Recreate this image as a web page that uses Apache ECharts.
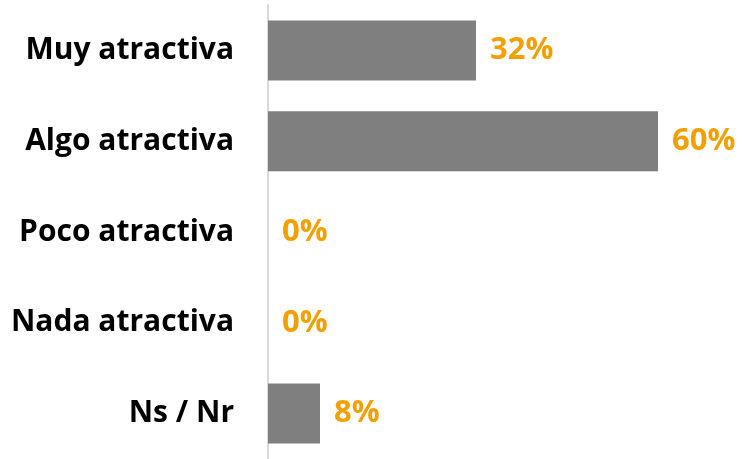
<!DOCTYPE html>
<html>
<head>
<meta charset="utf-8">
<script src="https://cdn.jsdelivr.net/npm/echarts@6/dist/echarts.min.js"></script>
<style>
  html, body { margin: 0; padding: 0; background: #fff; }
  #chart { width: 742px; height: 459px; }
</style>
</head>
<body>
<div id="chart"></div>
<script>
const categories = ['Muy atractiva', 'Algo atractiva', 'Poco atractiva', 'Nada atractiva', 'Ns / Nr']
const values = [32, 60, 0, 0, 8]

const chart = echarts.init(document.getElementById('chart'))
chart.setOption({
  animation: false,
  grid: { left: 268, top: 5, width: 455, height: 458 },
  xAxis: {
    type: 'value',
    min: 0,
    max: 70,
    show: false
  },
  yAxis: {
    type: 'category',
    data: categories,
    inverse: true,
    axisTick: { show: false },
    axisLine: { show: true, lineStyle: { color: '#d9d9d9', width: 2 } },
    axisLabel: {
      margin: 34,
      color: '#000',
      fontFamily: 'Open Sans',
      fontWeight: 'bold',
      fontSize: 30
    }
  },
  series: [
    {
      type: 'bar',
      data: values,
      barWidth: 60,
      itemStyle: { color: '#7f7f7f' },
      label: {
        show: true,
        position: 'right',
        distance: 14,
        formatter: '{c}%',
        color: '#f2a000',
        fontFamily: 'Open Sans',
        fontWeight: 'bold',
        fontSize: 31
      }
    }
  ]
})
</script>
</body>
</html>
